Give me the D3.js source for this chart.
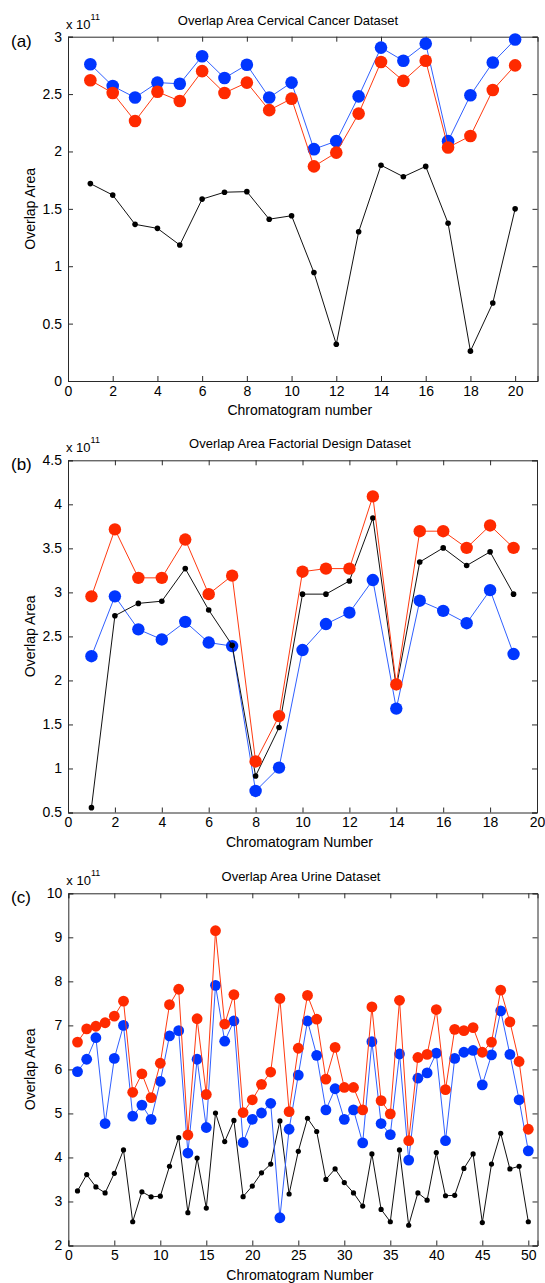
<!DOCTYPE html>
<html>
<head>
<meta charset="utf-8">
<script src="https://cdn.jsdelivr.net/npm/d3@7"></script>
<style>
  body { margin: 0; background: #fff; }
  svg { display: block; font-family: "Liberation Sans", Arial, sans-serif; }
</style>
</head>
<body>
<svg id="chart" width="545" height="1283"></svg>
<script>
// ---------- Panel (a): Cervical Cancer ----------
const chromA = [1,2,3,4,5,6,7,8,9,10,11,12,13,14,15,16,17,18,19,20];
const blueA  = [2.76,2.57,2.47,2.60,2.59,2.83,2.64,2.755,2.47,2.60,2.02,2.09,2.48,2.905,2.79,2.94,2.09,2.49,2.775,2.975];
const redA   = [2.62,2.51,2.265,2.52,2.44,2.70,2.51,2.60,2.36,2.46,1.87,1.99,2.33,2.78,2.615,2.79,2.035,2.135,2.535,2.75];
const blackA = [1.72,1.62,1.365,1.33,1.185,1.585,1.645,1.65,1.41,1.44,0.945,0.32,1.30,1.88,1.78,1.87,1.375,0.26,0.68,1.50];
const xTicksA = [0,2,4,6,8,10,12,14,16,18,20];
const yTicksA = [0,0.5,1,1.5,2,2.5,3];

// ---------- Panel (b): Factorial Design ----------
const chromB = [1,2,3,4,5,6,7,8,9,10,11,12,13,14,15,16,17,18,19];
const redB   = [2.955,3.715,3.165,3.165,3.60,2.98,3.19,1.08,1.595,3.235,3.27,3.27,4.09,1.955,3.695,3.695,3.505,3.76,3.505];
const blackB = [0.555,2.735,2.875,2.90,3.27,2.80,2.40,0.915,1.465,2.98,2.98,3.13,3.845,1.92,3.345,3.505,3.305,3.46,2.98];
const blueB  = [2.275,2.955,2.58,2.465,2.665,2.43,2.39,0.745,1.01,2.345,2.64,2.77,3.14,1.68,2.905,2.79,2.65,3.025,2.30];
const xTicksB = [0,2,4,6,8,10,12,14,16,18,20];
const yTicksB = [0.5,1,1.5,2,2.5,3,3.5,4,4.5];

// ---------- Panel (c): Urine ----------
const chromC = [1,2,3,4,5,6,7,8,9,10,11,12,13,14,15,16,17,18,19,20,21,22,23,24,25,
                26,27,28,29,30,31,32,33,34,35,36,37,38,39,40,41,42,43,44,45,46,47,48,49,50];
const redC   = [6.62,6.92,6.98,7.06,7.21,7.55,5.48,5.90,5.36,6.14,7.47,7.82,4.51,7.15,5.43,9.15,7.03,7.70,5.02,5.31,
                5.66,5.94,7.61,5.04,6.48,7.68,7.14,5.78,6.50,5.59,5.59,5.08,7.42,5.29,4.99,7.57,4.38,6.27,6.34,7.36,
                5.54,6.91,6.88,6.95,6.39,6.62,7.80,7.08,6.18,4.64];
const blueC  = [5.95,6.23,6.72,4.77,6.25,7.00,4.94,5.19,4.865,5.73,6.76,6.88,4.10,6.23,4.68,7.91,6.64,7.10,4.34,4.865,
                5.01,5.23,2.63,4.64,5.87,7.10,6.32,5.08,5.56,4.865,5.08,4.33,6.63,4.77,4.52,6.35,3.94,5.80,5.92,6.37,
                4.38,6.25,6.39,6.43,5.65,6.33,7.33,6.34,5.31,4.15];
const blackC = [3.24,3.61,3.33,3.195,3.64,4.17,2.54,3.22,3.105,3.12,3.80,4.45,2.745,3.985,2.85,5.01,4.36,4.84,3.11,3.35,
                3.65,3.85,4.83,3.17,4.14,4.89,4.59,3.50,3.74,3.43,3.195,2.895,4.08,2.82,2.54,4.17,2.46,3.195,3.03,4.11,
                3.13,3.14,3.75,4.08,2.52,3.85,4.55,3.74,3.80,2.54];
const xTicksC = [0,5,10,15,20,25,30,35,40,45,50];
const yTicksC = [2,3,4,5,6,7,8,9,10];

const RED = "#ff2a00", RED_LINE = "#ff3a10";
const BLUE = "#0036ff", BLUE_LINE = "#3060ff";
const AXIS = "#2a2a2a";

const svg = d3.select("#chart");

function panel(cfg) {
  const g = svg.append("g");
  const x = d3.scaleLinear().domain(cfg.xDomain).range([cfg.left, cfg.right]);
  const y = d3.scaleLinear().domain(cfg.yDomain).range([cfg.bottom, cfg.top]);
  const fmt = d => String(d);

  // axes (ticks inward, box on)
  const bottomAx = g.append("g").attr("transform", `translate(0,${cfg.bottom})`)
    .call(d3.axisBottom(x).tickValues(cfg.xTicks).tickSize(-5).tickPadding(5).tickFormat(fmt));
  const topAx = g.append("g").attr("transform", `translate(0,${cfg.top})`)
    .call(d3.axisTop(x).tickValues(cfg.xTicks).tickSize(-5).tickFormat(""));
  const leftAx = g.append("g").attr("transform", `translate(${cfg.left},0)`)
    .call(d3.axisLeft(y).tickValues(cfg.yTicks).tickSize(-5).tickPadding(6).tickFormat(fmt));
  const rightAx = g.append("g").attr("transform", `translate(${cfg.right},0)`)
    .call(d3.axisRight(y).tickValues(cfg.yTicks).tickSize(-5).tickFormat(""));
  [bottomAx, topAx, leftAx, rightAx].forEach(a => {
    a.select(".domain").attr("stroke", AXIS).attr("stroke-width", 1);
    a.selectAll(".tick line").attr("stroke", AXIS);
    a.selectAll("text").attr("fill", "#000").style("font-size", "14px")
      .style("font-family", '"Liberation Sans", Arial, sans-serif');
  });

  // series
  const line = (xs, ys) => d3.line().x((d, i) => x(xs[i])).y(d => y(d))(ys);
  cfg.series.forEach(s => {
    g.append("path").attr("d", line(cfg.xs, s.values))
      .attr("fill", "none").attr("stroke", s.line).attr("stroke-width", 1);
    g.selectAll(null).data(s.values).enter().append("circle")
      .attr("cx", (d, i) => x(cfg.xs[i])).attr("cy", d => y(d))
      .attr("r", s.r).attr("fill", s.fill);
  });

  // title
  g.append("text").attr("x", cfg.titleX).attr("y", cfg.top - 12)
    .attr("text-anchor", "middle").style("font-size", "13px").text(cfg.title);
  // exponent label
  const ex = g.append("text").attr("x", cfg.left - 2).attr("y", cfg.top - 8).style("font-size", "13px");
  ex.append("tspan").text("x 10");
  ex.append("tspan").attr("dy", -9).style("font-size", "9px").text("11");
  // panel label
  g.append("text").attr("x", 11).attr("y", cfg.top + 10).style("font-size", "17px").text(cfg.label);
  // axis labels
  g.append("text").attr("x", (cfg.left + cfg.right) / 2 - 3).attr("y", cfg.bottom + 34)
    .attr("text-anchor", "middle").style("font-size", "14px").text(cfg.xLabel);
  g.append("text").attr("transform", `translate(35,${(cfg.top + cfg.bottom) / 2}) rotate(-90)`)
    .attr("text-anchor", "middle").style("font-size", "14px").text("Overlap Area");
}

panel({
  left: 68, right: 537.5, top: 36.7, bottom: 381,
  xDomain: [0, 21], yDomain: [0, 3], xTicks: xTicksA, yTicks: yTicksA,
  xs: chromA, title: "Overlap Area Cervical Cancer Dataset", titleX: 288,
  label: "(a)", xLabel: "Chromatogram number",
  series: [
    { values: blueA, fill: BLUE, line: BLUE_LINE, r: 6.3 },
    { values: redA, fill: RED, line: RED_LINE, r: 6.3 },
    { values: blackA, fill: "#000", line: "#111", r: 2.8 }
  ]
});

panel({
  left: 68, right: 537, top: 460.3, bottom: 812.5,
  xDomain: [0, 20], yDomain: [0.5, 4.5], xTicks: xTicksB, yTicks: yTicksB,
  xs: chromB, title: "Overlap Area Factorial Design Dataset", titleX: 300,
  label: "(b)", xLabel: "Chromatogram Number",
  series: [
    { values: blueB, fill: BLUE, line: BLUE_LINE, r: 6.2 },
    { values: blackB, fill: "#000", line: "#111", r: 2.8 },
    { values: redB, fill: RED, line: RED_LINE, r: 6.2 }
  ]
});

panel({
  left: 68.3, right: 537.5, top: 893.3, bottom: 1245.5,
  xDomain: [0, 51], yDomain: [2, 10], xTicks: xTicksC, yTicks: yTicksC,
  xs: chromC, title: "Overlap Area Urine Dataset", titleX: 301,
  label: "(c)", xLabel: "Chromatogram Number",
  series: [
    { values: blackC, fill: "#000", line: "#111", r: 2.6 },
    { values: blueC, fill: BLUE, line: BLUE_LINE, r: 5.4 },
    { values: redC, fill: RED, line: RED_LINE, r: 5.4 }
  ]
});
</script>
</body>
</html>
